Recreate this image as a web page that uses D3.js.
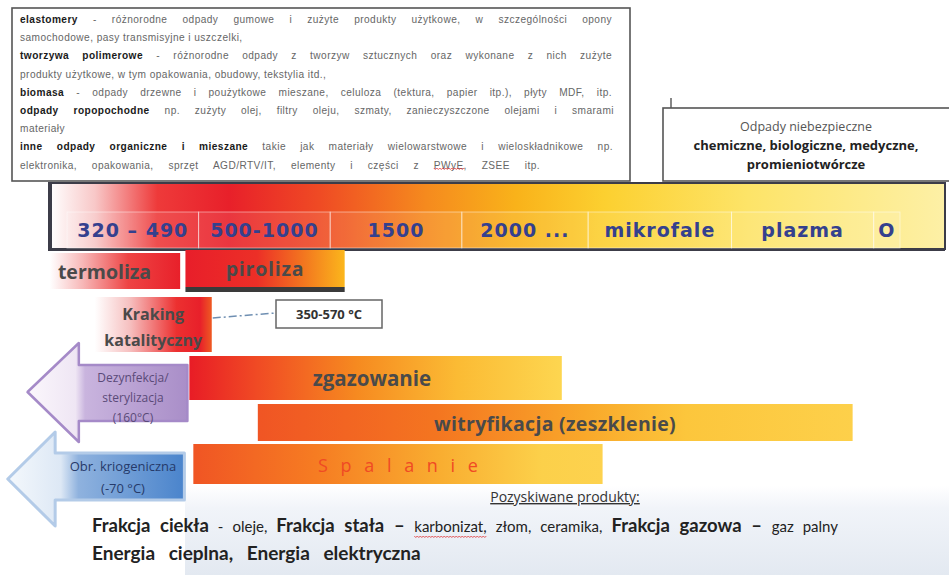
<!DOCTYPE html>
<html><head><meta charset="utf-8">
<script src="https://cdn.jsdelivr.net/npm/d3@7"></script>
<style>
html,body{margin:0;padding:0;background:#fff;}
svg{display:block;}
</style></head>
<body>
<svg id="chart" width="949" height="575"></svg>
<script>
// ---------------- DATA ----------------
const wasteLines = [
  [["elastomery", true], [" - różnorodne odpady gumowe i zużyte produkty użytkowe, w szczególności opony", false]],
  [["samochodowe, pasy transmisyjne i uszczelki,", false]],
  [["tworzywa polimerowe", true], [" - różnorodne odpady z tworzyw sztucznych oraz wykonane z nich zużyte", false]],
  [["produkty użytkowe, w tym opakowania, obudowy, tekstylia itd.,", false]],
  [["biomasa", true], [" - odpady drzewne i poużytkowe mieszane, celuloza (tektura, papier itp.), płyty MDF, itp.", false]],
  [["odpady ropopochodne", true], [" np. zużyty olej, filtry oleju, szmaty, zanieczyszczone olejami i smarami", false]],
  [["materiały", false]],
  [["inne odpady organiczne i mieszane", true], [" takie jak materiały wielowarstwowe i wieloskładnikowe np.", false]],
  [["elektronika, opakowania, sprzęt AGD/RTV/IT, elementy i części z ", false], ["PWyE", false], [", ZSEE itp.", false]]
];

const hazardLines = [
  ["Odpady niebezpieczne", false],
  ["chemiczne, biologiczne, medyczne,", true],
  ["promieniotwórcze", true]
];

const bandLabels = ["320 – 490", "500-1000", "1500", "2000 ...", "mikrofale", "plazma", "O"];
const bandEdges = [0, 1, 2, 3, 3.96, 5.05, 6.13, 6.33];

const processNames = ["termoliza", "piroliza", "Kraking katalityczny", "zgazowanie", "witryfikacja (zeszklenie)", "S p a l a n i e"];
const processFrom  = [-0.13, 0.90, 0.21, 0.93, 1.45, 0.96];
const processTo    = [ 0.86, 2.11, 1.10, 3.76, 5.97, 4.07];

const krakingRange = "350-570 °C";

const coldNames = [["Dezynfekcja/", "sterylizacja", "(160°C)"], ["Obr. kriogeniczna", "(-70 °C)"]];

const productsTitle = "Pozyskiwane produkty:";
const productsLine1 = [["Frakcja ciekła", true], [" - oleje, ", false], ["Frakcja stała", true], [" – ", true], ["karbonizat", false], [", złom, ceramika, ", false], ["Frakcja gazowa", true], [" – ", true], ["gaz palny", false]];
const productsLine2 = "Energia cieplna, Energia elektryczna";

// ---------------- SETUP ----------------
const svg = d3.select("#chart");
const defs = svg.append("defs");
const x = d3.scaleLinear().domain([0, 6.33]).range([67, 900]);
const SANS = "'Open Sans', Lato, sans-serif";

function hGrad(id, stops) {
  const g = defs.append("linearGradient").attr("id", id).attr("x1", 0).attr("x2", 1).attr("y1", 0).attr("y2", 0);
  stops.forEach(s => g.append("stop").attr("offset", s[0]).attr("stop-color", s[1]));
}
hGrad("gBar", [[0, "#ffffff"], [0.05, "#f8c8c8"], [0.12, "#ee3a3a"], [0.2, "#e8202a"], [0.3, "#ef4a24"], [0.42, "#f58a1e"], [0.52, "#f9b21a"], [0.62, "#fcd030"], [0.78, "#fde468"], [1, "#fdf0a6"]]);
hGrad("gTermo", [[0, "#ffffff"], [0.25, "#f7b8b8"], [0.6, "#ee4444"], [1, "#e8202a"]]);
hGrad("gPiro", [[0, "#e81e2a"], [0.45, "#ec2f27"], [0.75, "#f3781f"], [1, "#fbb61c"]]);
hGrad("gKrak", [[0, "#ffffff"], [0.3, "#f6c0c0"], [0.7, "#ec3030"], [0.9, "#e8202a"], [1, "#ee5a22"]]);
hGrad("gZgaz", [[0, "#e81c26"], [0.18, "#f04a24"], [0.45, "#f68a20"], [0.72, "#fbbb34"], [1, "#fdd650"]]);
hGrad("gWitr", [[0, "#f05524"], [0.3, "#f47520"], [0.55, "#f9a82a"], [0.72, "#fcc63c"], [1, "#fdd04a"]]);
hGrad("gSpal", [[0, "#f05524"], [0.3, "#f67c22"], [0.6, "#f9ad30"], [0.85, "#fcd04a"], [1, "#fdd24e"]]);
hGrad("gPurple", [[0, "#fbf7fc"], [0.3, "#efe6f4"], [0.36, "#c9b4de"], [1, "#a98ec8"]]);
hGrad("gBlue", [[0, "#f4f8fc"], [0.3, "#dde8f5"], [0.4, "#8fb2de"], [1, "#4a84cc"]]);
const gb = defs.append("linearGradient").attr("id", "gBottom").attr("x1", 0).attr("x2", 0).attr("y1", 0).attr("y2", 1);
gb.append("stop").attr("offset", 0).attr("stop-color", "#ffffff");
gb.append("stop").attr("offset", 0.25).attr("stop-color", "#f1f4f9");
gb.append("stop").attr("offset", 1).attr("stop-color", "#e3e9f1");

function countSpaces(s) { return (s.match(/ /g) || []).length; }
function squigglePath(x0, w, y) {
  let d = `M${x0},${y}`;
  for (let xx = 0; xx < w; xx += 3) d += ` l1.5,1.5 l1.5,-1.5`;
  svg.append("path").attr("d", d).attr("fill", "none").attr("stroke", "#e03030").attr("stroke-width", 0.8);
}

// ---------------- TOP TEXT BOX ----------------
svg.append("rect").attr("x", 12).attr("y", 8).attr("width", 618).attr("height", 173)
  .attr("fill", "#fff").attr("stroke", "#555").attr("stroke-width", 1.6);
const SX = 0.86;
const lineEnds = [612, null, 612, null, 612, 614, null, 613, 540];
const topG = svg.append("g").attr("transform", `translate(20,0) scale(${SX},1)`)
  .attr("font-family", "'Liberation Sans', Arial, sans-serif").attr("font-size", 11.8)
  .attr("letter-spacing", 0.5);
let pwyeNode = null;
wasteLines.forEach((segs, i) => {
  const t = topG.append("text").attr("x", 0).attr("y", 23 + i * 18.2);
  segs.forEach(s => {
    const ts = t.append("tspan").text(s[0])
      .attr("font-weight", s[1] ? "bold" : "normal")
      .attr("fill", s[1] ? "#1a1a1a" : "#666");
    if (s[0] === "PWyE") pwyeNode = ts;
  });
  if (lineEnds[i] != null) {
    const L = t.node().getComputedTextLength();
    const n = countSpaces(segs.map(s => s[0]).join(""));
    if (n > 0) t.attr("word-spacing", Math.max(0, ((lineEnds[i] - 20) / SX - L) / n));
  }
});

// hazardous box
svg.append("line").attr("x1", 671).attr("x2", 671).attr("y1", 98).attr("y2", 108).attr("stroke", "#555").attr("stroke-width", 1.4);
svg.append("rect").attr("x", 663).attr("y", 108).attr("width", 290).attr("height", 73)
  .attr("fill", "#fff").attr("stroke", "#555").attr("stroke-width", 1.6);
svg.append("g").selectAll("text").data(hazardLines).join("text")
  .attr("x", 806).attr("y", (d, i) => 131 + i * 19)
  .attr("text-anchor", "middle")
  .attr("font-family", SANS)
  .attr("font-size", d => d[1] ? 13 : 12.5)
  .attr("font-weight", d => d[1] ? "bold" : "normal")
  .attr("fill", d => d[1] ? "#222" : "#555")
  .text(d => d[0]);

// ---------------- TEMPERATURE BAR ----------------
svg.append("rect").attr("x", 50).attr("y", 183).attr("width", 895).attr("height", 66)
  .attr("fill", "url(#gBar)").attr("stroke", "#3c3c48").attr("stroke-width", 2);
svg.append("line").attr("x1", 50).attr("x2", 50).attr("y1", 182).attr("y2", 251).attr("stroke", "#3c3c48").attr("stroke-width", 4);
svg.append("line").attr("x1", 48).attr("x2", 945).attr("y1", 249.5).attr("y2", 249.5).attr("stroke", "#3c3c48").attr("stroke-width", 3);

const cells = svg.append("g");
bandLabels.forEach((lab, i) => {
  const x0 = x(bandEdges[i]), x1 = x(bandEdges[i + 1]);
  cells.append("rect").attr("x", x0).attr("y", 212).attr("width", x1 - x0).attr("height", 36)
    .attr("fill", "#ffffff").attr("fill-opacity", 0.1)
    .attr("stroke", "#ffffff").attr("stroke-opacity", 0.45).attr("stroke-width", 1);
  cells.append("text").attr("x", (x0 + x1) / 2).attr("y", 237)
    .attr("text-anchor", "middle")
    .attr("font-family", "'DejaVu Sans', Verdana, sans-serif").attr("font-weight", "bold")
    .attr("font-size", 19).attr("letter-spacing", 1)
    .attr("fill", "#34408e").text(lab);
});

// ---------------- PROCESS BARS ----------------
const rows = [
  {y: 253, h: 36, fill: "url(#gTermo)"},
  {y: 250, h: 37, fill: "url(#gPiro)"},
  {y: 297, h: 55, fill: "url(#gKrak)"},
  {y: 356, h: 44, fill: "url(#gZgaz)"},
  {y: 404, h: 37, fill: "url(#gWitr)"},
  {y: 444, h: 40, fill: "url(#gSpal)"}
];
const procG = svg.append("g");
procG.append("rect").attr("x", x(processFrom[1])).attr("y", 287).attr("width", x(processTo[1]) - x(processFrom[1])).attr("height", 5).attr("fill", "#3a3a3a");
processNames.forEach((n, i) => {
  procG.append("rect").attr("x", x(processFrom[i])).attr("y", rows[i].y)
    .attr("width", x(processTo[i]) - x(processFrom[i])).attr("height", rows[i].h)
    .attr("fill", rows[i].fill);
});
const labG = svg.append("g").attr("font-family", SANS).attr("font-weight", "bold").attr("fill", "#4a4a4a");
labG.append("text").attr("x", x(processFrom[0]) + 8).attr("y", 279).attr("font-size", 19.5).text(processNames[0]);
labG.append("text").attr("x", (x(processFrom[1]) + x(processTo[1])) / 2).attr("y", 276).attr("text-anchor", "middle").attr("font-size", 19.5).attr("letter-spacing", 0.8).text(processNames[1]);
const kr = processNames[2].split(" ");
const krC = (x(processFrom[2]) + x(processTo[2])) / 2;
labG.append("text").attr("x", krC).attr("y", 320).attr("text-anchor", "middle").attr("font-size", 16).text(kr[0]);
labG.append("text").attr("x", krC).attr("y", 346).attr("text-anchor", "middle").attr("font-size", 16).text(kr[1]);
labG.append("text").attr("x", 372).attr("y", 386).attr("text-anchor", "middle").attr("font-size", 20.5).text(processNames[3]);
labG.append("text").attr("x", 555).attr("y", 431).attr("text-anchor", "middle").attr("font-size", 19.5).attr("letter-spacing", 0.3).text(processNames[4]);
svg.append("text").attr("x", 400).attr("y", 472).attr("text-anchor", "middle")
  .attr("font-family", SANS).attr("font-size", 18)
  .attr("letter-spacing", 4).attr("fill", "#f04a24").text(processNames[5]);

// kraking callout
svg.append("line").attr("x1", x(processTo[2]) + 1).attr("y1", 318).attr("x2", 276).attr("y2", 313)
  .attr("stroke", "#6f8fb2").attr("stroke-width", 1.5).attr("stroke-dasharray", "8,3,2,3");
svg.append("rect").attr("x", 276).attr("y", 300).attr("width", 106).attr("height", 28)
  .attr("fill", "#fff").attr("stroke", "#666").attr("stroke-width", 1.5);
svg.append("text").attr("x", 329).attr("y", 319).attr("text-anchor", "middle")
  .attr("font-family", SANS).attr("font-weight", "bold").attr("font-size", 13)
  .attr("fill", "#333").text(krakingRange);

// ---------------- PRODUCTS BACKGROUND ----------------
svg.append("rect").attr("x", 185).attr("y", 486).attr("width", 764).attr("height", 89).attr("fill", "url(#gBottom)");

// ---------------- ARROWS (low temperature) ----------------
function arrowPath(tipX, tipY, baseX, headTop, headBot, shaftTop, shaftBot, endX) {
  return `M${tipX},${tipY} L${baseX},${headTop} L${baseX},${shaftTop} L${endX},${shaftTop} L${endX},${shaftBot} L${baseX},${shaftBot} L${baseX},${headBot} Z`;
}
const endX = x(processFrom[3]) - 2;
svg.append("path").attr("d", arrowPath(x(-0.3), 392, x(0.09), 343, 442, 365, 421, endX))
  .attr("fill", "url(#gPurple)").attr("stroke", "#a58ac8").attr("stroke-width", 2.5).attr("stroke-linejoin", "round");
svg.append("path").attr("d", arrowPath(x(-0.45), 479, x(-0.09), 432, 526, 453, 500, endX - 3))
  .attr("fill", "url(#gBlue)").attr("stroke", "#b3cbe8").attr("stroke-width", 3).attr("stroke-linejoin", "round");

svg.append("g").selectAll("text").data(coldNames[0]).join("text")
  .attr("x", 133).attr("y", (d, i) => 382 + i * 20)
  .attr("text-anchor", "middle").attr("font-family", SANS).attr("font-size", 12)
  .attr("fill", "#5a4a78").text(d => d);
svg.append("g").selectAll("text").data(coldNames[1]).join("text")
  .attr("x", 123).attr("y", (d, i) => 471 + i * 22)
  .attr("text-anchor", "middle").attr("font-family", SANS).attr("font-size", 13)
  .attr("fill", "#263a6a").text(d => d);

// ---------------- PRODUCTS ----------------
svg.append("text").attr("x", 565).attr("y", 502).attr("text-anchor", "middle")
  .attr("font-family", SANS).attr("font-size", 14)
  .attr("text-decoration", "underline").attr("fill", "#333").text(productsTitle);
const p1 = svg.append("text").attr("x", 92).attr("y", 532)
  .attr("font-family", "Lato, 'Open Sans', sans-serif").attr("fill", "#222");
let karbNode = null;
productsLine1.forEach(s => {
  const ts = p1.append("tspan").text(s[0])
    .attr("font-weight", s[1] ? "bold" : "normal")
    .attr("font-size", s[1] ? 18.5 : 15);
  if (s[0] === "karbonizat") karbNode = ts;
});
{
  const L = p1.node().getComputedTextLength();
  const n = countSpaces(productsLine1.map(s => s[0]).join(""));
  p1.attr("word-spacing", Math.max(0, (746 - L) / n));
}
svg.append("text").attr("x", 92).attr("y", 560)
  .attr("font-family", "Lato, 'Open Sans', sans-serif").attr("font-weight", "bold").attr("font-size", 19)
  .attr("word-spacing", 9).attr("fill", "#222").text(productsLine2);

try {
  if (karbNode) { const b = karbNode.node().getBBox(); squigglePath(b.x, b.width, 536); }
  if (pwyeNode) { const b = pwyeNode.node().getBBox(); squigglePath(20 + b.x * SX, b.width * SX, 168); }
} catch (e) {}
</script>
</body></html>
